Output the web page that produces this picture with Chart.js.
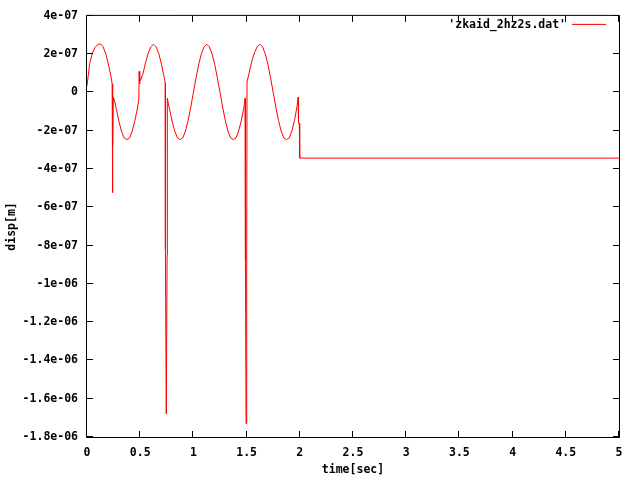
<!DOCTYPE html>
<html>
<head>
<meta charset="UTF-8">
<title>disp vs time</title>
<script src="https://cdn.jsdelivr.net/npm/chart.js"></script>
<style>
  body { margin: 0; background: #fff; }
  canvas { display: block; }
</style>
</head>
<body>
<canvas id="grafica" width="640" height="480"></canvas>
<script>
// data
const seriesLabel = "'zkaid_2hz2s.dat'";

const time = [
  0, 0.025, 0.05, 0.075, 0.1, 0.125, 0.15, 0.175, 0.2, 0.225, 0.236,
  0.238, 0.241, 0.244, 0.247,
  0.26, 0.275, 0.3, 0.325, 0.35, 0.375, 0.4, 0.425, 0.45, 0.475, 0.487,
  0.49, 0.494, 0.497, 0.5,
  0.525, 0.55, 0.575, 0.6, 0.625, 0.65, 0.675, 0.7, 0.725, 0.735,
  0.737, 0.745, 0.753, 0.755,
  0.765, 0.775, 0.8, 0.825, 0.85, 0.875, 0.9, 0.925, 0.95, 0.975,
  1.0, 1.025, 1.05, 1.075, 1.1, 1.125, 1.15, 1.175, 1.2, 1.225,
  1.25, 1.275, 1.3, 1.325, 1.35, 1.375, 1.4, 1.425, 1.45, 1.475, 1.486,
  1.489, 1.495, 1.501, 1.504,
  1.525, 1.55, 1.575, 1.6, 1.625, 1.65, 1.675, 1.7, 1.725,
  1.75, 1.775, 1.8, 1.825, 1.85, 1.875, 1.9, 1.925, 1.95, 1.975, 1.984,
  1.988, 1.996, 1.999, 5
];

const disp = [
  0.35e-7, 1.5e-7, 2.05e-7, 2.35e-7, 2.5e-7, 2.54e-7, 2.4e-7, 2.05e-7, 1.5e-7, 0.85e-7, 0.45e-7,
  -2.43e-7, -5.24e-7, -2.76e-7, -0.25e-7,
  -0.45e-7, -0.85e-7, -1.5e-7, -2.05e-7, -2.38e-7, -2.46e-7, -2.38e-7, -2.02e-7, -1.47e-7, -0.8e-7, -0.35e-7,
  1.1e-7, 0.45e-7, 0.9e-7, 0.6e-7,
  0.95e-7, 1.55e-7, 2.05e-7, 2.38e-7, 2.52e-7, 2.38e-7, 2.02e-7, 1.47e-7, 0.8e-7, 0.5e-7,
  -8.2e-7, -16.8e-7, -8.5e-7, -0.3e-7,
  -0.6e-7, -0.85e-7, -1.5e-7, -2.02e-7, -2.38e-7, -2.46e-7, -2.38e-7, -2.02e-7, -1.47e-7, -0.77e-7,
  0, 0.77e-7, 1.47e-7, 2.02e-7, 2.38e-7, 2.52e-7, 2.38e-7, 2.02e-7, 1.47e-7, 0.77e-7,
  0, -0.77e-7, -1.47e-7, -2.02e-7, -2.38e-7, -2.46e-7, -2.38e-7, -2.02e-7, -1.47e-7, -0.77e-7, -0.3e-7,
  -8.75e-7, -17.3e-7, -8.4e-7, 0.55e-7,
  1.05e-7, 1.65e-7, 2.1e-7, 2.4e-7, 2.52e-7, 2.38e-7, 2.02e-7, 1.47e-7, 0.77e-7,
  0, -0.77e-7, -1.47e-7, -2.02e-7, -2.38e-7, -2.46e-7, -2.38e-7, -2.02e-7, -1.47e-7, -0.7e-7, -0.25e-7,
  -1.6e-7, -1.6e-7, -3.43e-7, -3.43e-7
];

const xTickValues = [0, 0.5, 1, 1.5, 2, 2.5, 3, 3.5, 4, 4.5, 5];
const xTickLabels = ['0', '0.5', '1', '1.5', '2', '2.5', '3', '3.5', '4', '4.5', '5'];
const yTickValues = [4e-7, 2e-7, 0, -2e-7, -4e-7, -6e-7, -8e-7, -1e-6, -1.2e-6, -1.4e-6, -1.6e-6, -1.8e-6];
const yTickLabels = ['4e-07', '2e-07', '0', '-2e-07', '-4e-07', '-6e-07', '-8e-07', '-1e-06', '-1.2e-06', '-1.4e-06', '-1.6e-06', '-1.8e-06'];

const fuente = { family: "'DejaVu Sans Mono', monospace", size: 11.5, weight: 'bold' };

// box, inside ticks on all four sides, and gnuplot style key
const marco = {
  id: 'marco',
  afterDraw(chart) {
    const ctx = chart.ctx;
    const a = chart.chartArea;
    const xs = chart.scales.x, ys = chart.scales.y;
    ctx.save();
    ctx.strokeStyle = '#000';
    ctx.lineWidth = 1;
    ctx.beginPath();
    ctx.rect(a.left - 0.5, a.top - 0.5, a.right - a.left + 1, a.bottom - a.top + 1);
    xs.ticks.forEach(t => {
      const px = Math.round(xs.getPixelForValue(t.value)) - 0.5;
      ctx.moveTo(px, a.bottom); ctx.lineTo(px, a.bottom - 6);
      ctx.moveTo(px, a.top); ctx.lineTo(px, a.top + 6);
    });
    ys.ticks.forEach(t => {
      const py = Math.round(ys.getPixelForValue(t.value)) - 0.5;
      ctx.moveTo(a.left, py); ctx.lineTo(a.left + 6, py);
      ctx.moveTo(a.right, py); ctx.lineTo(a.right - 6, py);
    });
    ctx.stroke();

    // key
    const ds = chart.data.datasets[0];
    ctx.font = 'bold 11.5px ' + fuente.family;
    ctx.fillStyle = '#000';
    ctx.textAlign = 'right';
    ctx.textBaseline = 'middle';
    ctx.fillText(ds.label, a.right - 53, a.top + 9);
    ctx.strokeStyle = ds.borderColor;
    ctx.beginPath();
    ctx.moveTo(a.right - 47, a.top + 8.5);
    ctx.lineTo(a.right - 13, a.top + 8.5);
    ctx.stroke();
    ctx.restore();
  }
};

new Chart(document.getElementById('grafica'), {
  type: 'line',
  data: {
    datasets: [{
      label: seriesLabel,
      data: time.map((t, i) => ({ x: t, y: disp[i] })),
      borderColor: '#ff0000',
      borderWidth: 1,
      pointRadius: 0,
      tension: 0,
      fill: false
    }]
  },
  options: {
    responsive: false,
    animation: false,
    layout: { padding: { left: 0, right: 21, top: 15, bottom: 0 } },
    plugins: { legend: { display: false }, tooltip: { enabled: false } },
    scales: {
      x: {
        type: 'linear',
        min: 0, max: 5,
        afterBuildTicks: axis => { axis.ticks = xTickValues.map(v => ({ value: v })); },
        afterFit: axis => { axis.height = 43; },
        grid: { display: false, drawTicks: false },
        border: { display: false },
        ticks: {
          color: '#000', font: fuente, padding: 9, maxRotation: 0, autoSkip: false,
          callback: (v, i) => xTickLabels[i]
        },
        title: { display: true, text: 'time[sec]', color: '#000', font: fuente, padding: { top: 0, bottom: 3 } }
      },
      y: {
        type: 'linear',
        min: -1.8e-6, max: 4e-7,
        afterBuildTicks: axis => { axis.ticks = yTickValues.map(v => ({ value: v })); },
        afterFit: axis => { axis.width = 87; },
        grid: { display: false, drawTicks: false },
        border: { display: false },
        ticks: {
          color: '#000', font: fuente, padding: 9, autoSkip: false,
          callback: (v, i) => yTickLabels[i]
        },
        title: { display: true, text: 'disp[m]', color: '#000', font: fuente, padding: { top: 5, bottom: 0 } }
      }
    }
  },
  plugins: [marco]
});
</script>
</body>
</html>
